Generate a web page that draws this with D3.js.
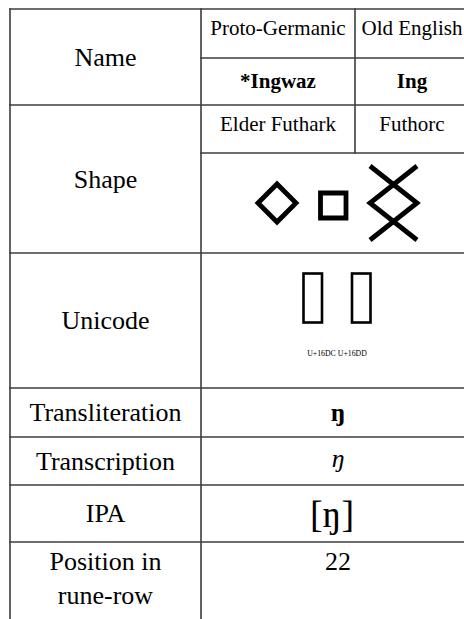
<!DOCTYPE html>
<html><head><meta charset="utf-8">
<script src="https://cdn.jsdelivr.net/npm/d3@7"></script>
<style>html,body{margin:0;padding:0;background:#fff;}svg{display:block;}</style>
</head><body>
<script>
// ---- data ----
const rowLabels = ["Name", "Shape", "Unicode", "Transliteration", "Transcription", "IPA", "Position in|rune-row"];
const languages = ["Proto-Germanic", "Old English"];
const runeNames = ["*Ingwaz", "Ing"];
const alphabets = ["Elder Futhark", "Futhorc"];
const codePoints = ["U+16DC", "U+16DD"];
const transliteration = ["ŋ"];
const transcription = ["ŋ"];
const ipa = ["[ŋ]"];
const position = ["22"];

// ---- layout ----
const W = 464, H = 619;
const xs = [10, 201, 355, 469];          // column edges
const ys = [9, 105, 253, 388, 437, 485, 542, 700]; // main row edges
const subY = [58, 153];                  // sub-row lines in rows 0 and 1
const lineColor = "#3c3c3c";
const serif = "'Liberation Serif','Times New Roman',serif";

const svg = d3.select("body").append("svg").attr("width", W).attr("height", H);
svg.append("rect").attr("width", W).attr("height", H).attr("fill", "#fff");

const g = svg.append("g");
const capH = fs => fs * 0.66;
function text(x, yCenter, str, fs, opts = {}) {
  return g.append("text").attr("x", x).attr("y", yCenter + capH(fs) / 2)
    .attr("text-anchor", "middle").attr("font-family", serif).attr("font-size", fs)
    .attr("font-weight", opts.bold ? "bold" : "normal")
    .attr("font-style", opts.italic ? "italic" : "normal")
    .attr("fill", "#000").text(str);
}
const colC = i => (xs[i] + xs[i + 1]) / 2;
const spanC = (xs[1] + xs[3]) / 2;

// row labels
rowLabels.forEach((lab, i) => {
  const parts = lab.split("|");
  if (parts.length === 1) {
    text(colC(0), (ys[i] + ys[i + 1]) / 2, lab, 26);
  } else {
    parts.forEach((p, j) => text(colC(0), ys[i] + 19 + j * 34, p, 26));
  }
});

// Name row
languages.forEach((l, i) => text(colC(i + 1), ys[0] + 19, l, 21));
runeNames.forEach((l, i) => text(colC(i + 1), (subY[0] + ys[1]) / 2, l, 21, {bold: true}));
// Shape row
alphabets.forEach((l, i) => text(colC(i + 1), ys[1] + 19, l, 21));

// rune shapes (unit coordinates mapped by scales)
const shapes = [
  {paths: [[[0, .5], [.5, 0], [1, .5], [.5, 1]]], closed: true, box: [258, 296, 184, 222]},
  {paths: [[[0, 0], [1, 0], [1, 1], [0, 1]]], closed: true, box: [320.5, 346, 193, 218]},
  {paths: [[[0, 0], [1, .5], [0, 1]], [[1, 0], [0, .5], [1, 1]]], closed: false, box: [370, 417, 166, 240]}
];
shapes.forEach(s => {
  const sx = d3.scaleLinear().domain([0, 1]).range([s.box[0], s.box[1]]);
  const sy = d3.scaleLinear().domain([0, 1]).range([s.box[2], s.box[3]]);
  const line = d3.line().x(d => sx(d[0])).y(d => sy(d[1]));
  s.paths.forEach(p => {
    g.append("path").attr("d", line(p) + (s.closed ? "Z" : ""))
      .attr("fill", "none").attr("stroke", "#000").attr("stroke-width", 4.8)
      .attr("stroke-linejoin", "miter").attr("stroke-linecap", "butt");
  });
});

// Unicode row: missing-glyph boxes + code points
const tofuW = 18.5, tofuH = 49, tofuGap = 30;
codePoints.forEach((c, i) => {
  const cx = spanC + 2 + (i - 0.5) * (tofuW + tofuGap);
  g.append("rect").attr("x", cx - tofuW / 2).attr("y", 273.5).attr("width", tofuW).attr("height", tofuH)
    .attr("fill", "none").attr("stroke", "#000").attr("stroke-width", 2.6);
});
text(spanC + 2, 353, codePoints.join(" "), 7.8);

// values
text(spanC + 3, (ys[3] + ys[4]) / 2, transliteration[0], 26, {bold: true});
text(spanC + 3, (ys[4] + ys[5]) / 2 - 3, transcription[0], 26, {italic: true});
text(spanC - 3, (ys[5] + ys[6]) / 2 + 1, ipa[0], 38);
text(spanC + 3, ys[6] + 19, position[0], 26);

// grid lines
const lines = [];
lines.push([xs[0], ys[0], xs[3], ys[0]]);
lines.push([xs[1], subY[0], xs[3], subY[0]]);
lines.push([xs[1], subY[1], xs[3], subY[1]]);
for (let i = 1; i < ys.length - 1; i++) lines.push([xs[0], ys[i], xs[3], ys[i]]);
lines.push([xs[0], ys[0], xs[0], ys[7]]);
lines.push([xs[1], ys[0], xs[1], ys[7]]);
lines.push([xs[2], ys[0], xs[2], subY[1]]);
lines.push([xs[3], ys[0], xs[3], ys[7]]);
g.selectAll("line.grid").data(lines).enter().append("line").attr("class", "grid")
  .attr("x1", d => d[0]).attr("y1", d => d[1]).attr("x2", d => d[2]).attr("y2", d => d[3])
  .attr("stroke", lineColor).attr("stroke-width", 1.6).attr("stroke-linecap", "square");
</script>
</body></html>
